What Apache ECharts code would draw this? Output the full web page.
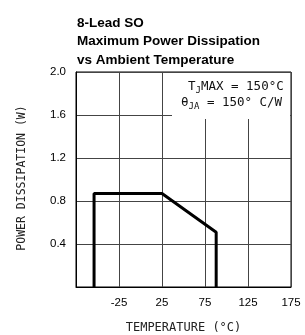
<!DOCTYPE html>
<html><head><meta charset="utf-8">
<script src="https://cdn.jsdelivr.net/npm/echarts@6/dist/echarts.min.js"></script>
<style>html,body{margin:0;padding:0;background:#fff}#c{width:305px;height:335px}</style>
</head><body><div id="c"></div>
<script>
var titleLines = ['8-Lead SO', 'Maximum Power Dissipation', 'vs Ambient Temperature'];
var xTicks = [-75, -25, 25, 75, 125, 175];
var yTicks = [0, 0.4, 0.8, 1.2, 1.6, 2.0];
var temps = [-54, -54, 25, 88, 88];
var power = [0, 0.87, 0.87, 0.51, 0];
var xName = 'TEMPERATURE (°C)';
var yName = 'POWER DISSIPATION (W)';

var chart = echarts.init(document.getElementById('c'), null, {renderer: 'canvas'});
var data = temps.map(function (t, i) { return [t, power[i]]; });
var F = '"Liberation Sans", Arial, sans-serif';
var M = '"DejaVu Sans Mono", monospace';
chart.setOption({
  animation: false,
  backgroundColor: '#fff',
  title: {
    text: titleLines.join('\n'), left: 72, top: 9,
    textStyle: {fontFamily: F, fontWeight: 'bold', fontSize: 13.5, lineHeight: 18.5, color: '#000'}
  },
  grid: {left: 76, right: 14, top: 72, bottom: 48, show: true, borderColor: '#000', borderWidth: 1},
  xAxis: {
    type: 'value', min: xTicks[0], max: xTicks[xTicks.length - 1], interval: 50,
    axisLine: {onZero: false, lineStyle: {color: '#000'}}, axisTick: {show: false},
    axisLabel: {color: '#000', fontFamily: F, fontSize: 11.5, margin: 10,
      formatter: function (v) { return v === xTicks[0] ? '' : String(v); }},
    splitLine: {lineStyle: {color: '#444', width: 1}}
  },
  yAxis: {
    type: 'value', min: yTicks[0], max: yTicks[yTicks.length - 1], interval: 0.4,
    axisLine: {show: true, onZero: false, lineStyle: {color: '#000'}}, axisTick: {show: false},
    axisLabel: {color: '#000', fontFamily: F, fontSize: 11.5, margin: 10,
      formatter: function (v) { return v === 0 ? '' : v.toFixed(1); }},
    splitLine: {lineStyle: {color: '#444', width: 1}}
  },
  graphic: [
    {type: 'text', x: 183.5, y: 328,
      style: {text: xName, font: '12px ' + M, fill: '#222', textAlign: 'center', textVerticalAlign: 'middle'}},
    {type: 'text', x: 22, y: 178, rotation: Math.PI / 2,
      style: {text: yName, font: '11.5px ' + M, fill: '#222', textAlign: 'center', textVerticalAlign: 'middle'}},
    {type: 'rect', shape: {x: 172, y: 73, width: 118, height: 46}, style: {fill: '#fff'}, z: 50},
    {type: 'text', x: 188, y: 79, z: 51,
      style: {rich: {n: {font: '12.5px ' + M, fill: '#111'}, s: {font: '9px ' + M, fill: '#111', padding: [7, 0, 0, 0]}},
        text: '{n|T}{s|J}{n|MAX = 150°C}'}},
    {type: 'text', x: 181, y: 95, z: 51,
      style: {rich: {n: {font: '12.5px ' + M, fill: '#111'}, s: {font: '9px ' + M, fill: '#111', padding: [7, 0, 0, 0]}},
        text: '{n|θ}{s|JA}{n| = 150° C/W}'}}
  ],
  series: [{
    type: 'line', data: data, symbol: 'none', z: 10,
    lineStyle: {color: '#000', width: 3}
  }]
});
</script></body></html>
